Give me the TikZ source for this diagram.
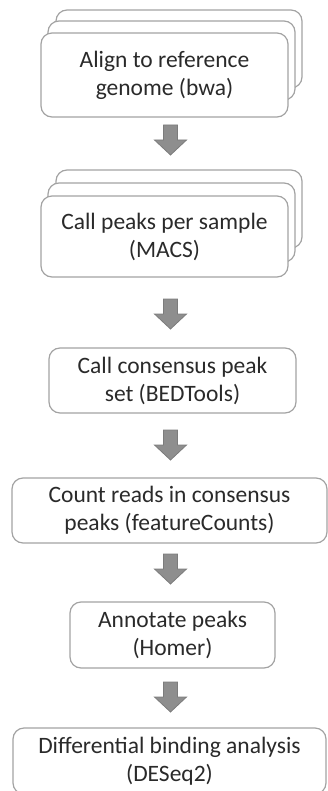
\documentclass[tikz,border=0pt]{standalone}
\usepackage{fontspec}
\setmainfont{Carlito}
\begin{document}
\begin{tikzpicture}[x=1pt,y=-1pt,
  stepbox/.style={draw=boxline, line width=1.2pt, fill=white, rounded corners=11pt,
    inner sep=0pt, align=center, text=textcol,
    font=\fontsize{23.5}{28}\selectfont},
  blockarrow/.pic={
    \filldraw[fill=arrowfill, draw=arrowline, line width=0.8pt, line join=miter]
      (-7,0) -- (7,0) -- (7,15) -- (16,15) -- (0,30) -- (-16,15) -- (-7,15) -- cycle;
  }]
\definecolor{boxline}{HTML}{A3A3A3}
\definecolor{textcol}{HTML}{2A2A2A}
\definecolor{arrowfill}{HTML}{8E8E8E}
\definecolor{arrowline}{HTML}{7C7C7C}
\useasboundingbox (0,0) rectangle (328,791);
\clip (0,0) rectangle (328,791);

% alignment, one card per sample
\node[stepbox, minimum width=246, minimum height=78] (s1c) at (179,49) {};
\node[stepbox, minimum width=247, minimum height=79] (s1b) at (171.5,60.5) {};
\node[stepbox, minimum width=247, minimum height=84] (s1) at (164.5,75)
  {Align to reference\\genome (bwa)};
\pic at (170.5,125) {blockarrow};

% peak calling, one card per sample
\node[stepbox, minimum width=246, minimum height=78] (s2c) at (179,209) {};
\node[stepbox, minimum width=247, minimum height=79] (s2b) at (171.5,222.5) {};
\node[stepbox, minimum width=247, minimum height=81] (s2) at (164.5,236.5)
  {Call peaks per sample\\(MACS)};
\pic at (170.5,299) {blockarrow};

\node[stepbox, minimum width=247, minimum height=65] (s3) at (172.5,380.5)
  {Call consensus peak\\set (BEDTools)};
\pic at (170.5,430) {blockarrow};

\node[stepbox, minimum width=315, minimum height=65] (s4) at (169.5,510.5)
  {Count reads in consensus\\peaks (featureCounts)};
\pic at (170.5,554) {blockarrow};

\node[stepbox, minimum width=205, minimum height=66] (s5) at (172.5,635)
  {Annotate peaks\\(Homer)};
\pic at (170.5,682) {blockarrow};

\node[stepbox, minimum width=313, minimum height=66] (s6) at (169.5,761)
  {Differential binding analysis\\(DESeq2)};
\end{tikzpicture}
\end{document}
